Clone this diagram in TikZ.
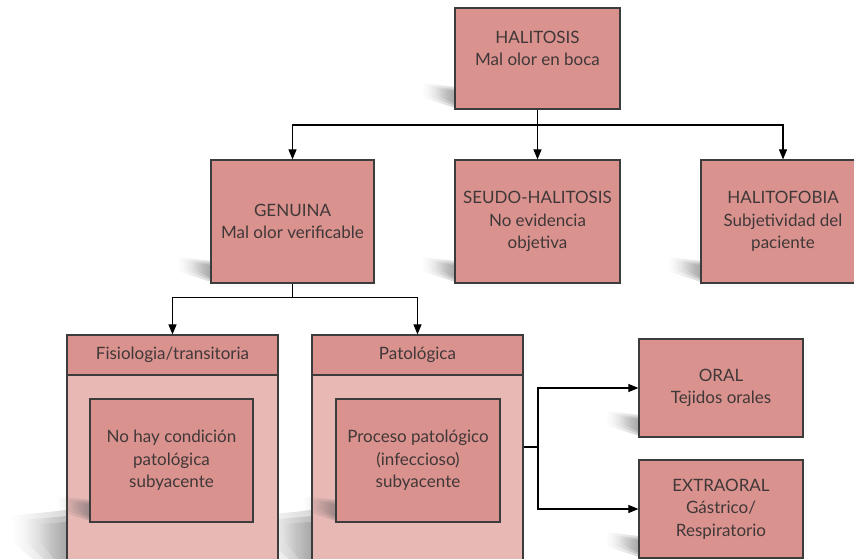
\documentclass[tikz,border=0pt]{standalone}
\usepackage{fontspec}
\setmainfont{Lato}
\usetikzlibrary{arrows.meta,fadings,calc}
\definecolor{boxfill}{RGB}{217,146,142}
\definecolor{bodyfill}{RGB}{232,184,181}
\definecolor{boxline}{RGB}{60,60,60}
\definecolor{txtcol}{RGB}{64,56,56}
\tikzfading[name=shfade, left color=transparent!100, right color=transparent!0]
\newcommand\shdat[2]{%
  \fill[shd] ({#1},{#2-1}) -- ({#1},{#2-22}) -- ({#1-34},{#2-26}) -- ({#1-34},{#2-12}) -- cycle;
  \fill[shd] ({#1},{#2-3}) -- ({#1},{#2-20}) -- ({#1-28},{#2-23}) -- ({#1-28},{#2-14}) -- cycle;
  \fill[shd] ({#1},{#2-5}) -- ({#1},{#2-18}) -- ({#1-20},{#2-21}) -- ({#1-20},{#2-15}) -- cycle;}
\begin{document}
\begin{tikzpicture}[x=1pt,y=-1pt,
  box/.style={draw=boxline, line width=1.2pt, fill=boxfill, align=center, text=txtcol,
              font=\fontsize{17}{22.5}\selectfont, inner sep=0pt},
  txt/.style={align=center, text=txtcol, font=\fontsize{17}{22.5}\selectfont, inner sep=0pt},
  body/.style={draw=boxline, line width=1.2pt, fill=bodyfill, inner sep=0pt},
  conn/.style={line width=1.1pt, draw=black},
  arr/.style={conn, -{Triangle[length=10pt,width=8pt]}},
  shd/.style={fill=black!60, path fading=shfade, fill opacity=0.25}
]
\useasboundingbox (0,0) rectangle (854,559);

% shadows behind the boxes
\shdat{455}{109}
\shdat{211}{283}
\shdat{455}{283}
\shdat{701}{283}
\shdat{639}{437}
\shdat{639}{558}
\foreach \L in {67,312}{
  \fill[shd] (\L,510) -- (\L,585) -- (\L-56,542) -- (\L-56,516) -- cycle;
  \fill[shd] (\L,516) -- (\L,580) -- (\L-44,540) -- (\L-44,520) -- cycle;
  \fill[shd] (\L,522) -- (\L,575) -- (\L-30,538) -- (\L-30,524) -- cycle;
}

% top level
\node[box, minimum width=165pt, minimum height=101pt] (halitosis) at (537.5,58.5) {};
\node[txt] (halitosistext) at (537.5,48.5) {HALITOSIS\\Mal olor en boca};

% second level
\node[box, minimum width=163pt, minimum height=123pt] (genuina) at (292.5,221.5) {GENUINA\\Mal olor verificable};
\node[box, minimum width=165pt, minimum height=123pt] (seudo) at (537.5,221.5) {SEUDO-HALITOSIS\\No evidencia\\objetiva};
\node[box, minimum width=164pt, minimum height=123pt] (halitofobia) at (783,221.5) {HALITOFOBIA\\Subjetividad del\\paciente};

% third level containers
\node[body, minimum width=211pt, minimum height=210pt] (fisiobody) at (172.5,480) {};
\node[box, minimum width=211pt, minimum height=40pt] (fisiohead) at (172.5,355) {Fisiologia/transitoria};
\node[body, minimum width=211pt, minimum height=210pt] (patobody) at (417.5,480) {};
\node[box, minimum width=211pt, minimum height=40pt] (patohead) at (417.5,355) {Patológica};

% inner shadows and boxes
\shdat{90}{522}
\shdat{336}{522}
\node[box, minimum width=163pt, minimum height=123pt] (fisioinner) at (171.5,460.5) {No hay condición\\patológica\\subyacente};
\node[box, minimum width=164pt, minimum height=123pt] (patoinner) at (418,460.5) {Proceso patológico\\(infeccioso)\\subyacente};

% right boxes
\node[box, minimum width=164pt, minimum height=98pt] (oral) at (721,388) {ORAL\\Tejidos orales};
\node[box, minimum width=164pt, minimum height=98pt] (extraoral) at (721,509) {EXTRAORAL\\Gástrico/\\Respiratorio};

% connectors
\draw[arr] (halitosis.south) -- (seudo.north);
\coordinate (bus1) at (537.5,125);
\draw[arr] (bus1) -| (genuina.north);
\draw[arr] (bus1) -| (halitofobia.north);

\draw[conn] (genuina.south) -- ++(0,14) coordinate (bus2);
\draw[arr] (bus2) -| (fisiohead.north);
\draw[arr] (bus2) -| (patohead.north);

\coordinate (split) at (538,447);
\draw[conn] (split -| patobody.east) -- (split);
\draw[arr] (split) |- (oral.west);
\draw[arr] (split) |- (extraoral.west);
\end{tikzpicture}
\end{document}
